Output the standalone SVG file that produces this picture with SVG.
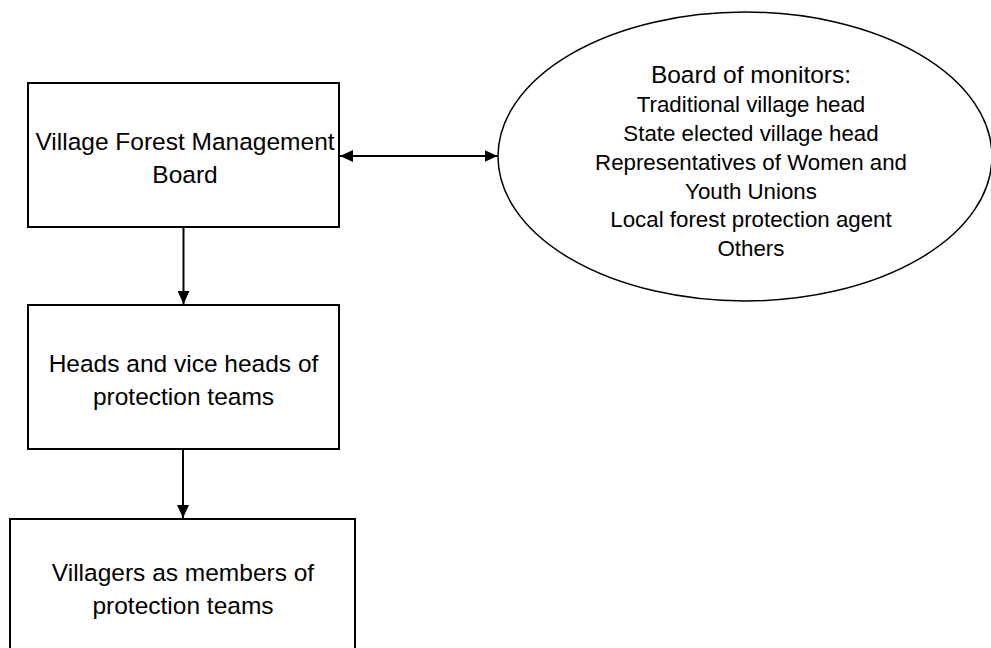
<svg xmlns="http://www.w3.org/2000/svg" width="991" height="648" viewBox="0 0 991 648">
<style>
.box{fill:#fff;stroke:#000;stroke-width:2}
.ell{fill:#fff;stroke:#000;stroke-width:1.5}
.t{font-family:"Liberation Sans",Arial,sans-serif;font-size:24.5px;fill:#000;text-anchor:middle}
.h{font-size:24.5px}
.s{font-size:22.3px}
.c{stroke:#000;stroke-width:2;fill:none}
</style>
<defs>
<marker id="ah" viewBox="0 0 13 12" refX="13" refY="6" markerWidth="13" markerHeight="12" markerUnits="userSpaceOnUse" orient="auto-start-reverse">
<path d="M0,0 L13,6 L0,12 Z" fill="#000"/>
</marker>
</defs>
<rect width="991" height="648" fill="#fff"/>
<g id="vfmb">
<rect class="box" x="28" y="83" width="311" height="144"/>
<text class="t" x="185" y="150">Village Forest Management</text>
<text class="t" x="185" y="183">Board</text>
</g>
<g id="monitors">
<ellipse class="ell" cx="745" cy="156.5" rx="247" ry="144.5"/>
<text class="t h" x="751" y="83">Board of monitors:</text>
<text class="t s" x="751" y="112">Traditional village head</text>
<text class="t s" x="751" y="141">State elected village head</text>
<text class="t s" x="751" y="169.5">Representatives of Women and</text>
<text class="t s" x="751" y="198.5">Youth Unions</text>
<text class="t s" x="751" y="227">Local forest protection agent</text>
<text class="t s" x="751" y="256">Others</text>
</g>
<g id="heads">
<rect class="box" x="28" y="305" width="311" height="144"/>
<text class="t" x="183.5" y="372">Heads and vice heads of</text>
<text class="t" x="183.5" y="405">protection teams</text>
</g>
<g id="villagers">
<rect class="box" x="10" y="519" width="345" height="150"/>
<text class="t" x="183" y="581">Villagers as members of</text>
<text class="t" x="183" y="614">protection teams</text>
</g>
<g id="connectors">
<line class="c" x1="340" y1="156" x2="497.5" y2="156" marker-start="url(#ah)" marker-end="url(#ah)"/>
<line class="c" x1="183.5" y1="228" x2="183.5" y2="304" marker-end="url(#ah)"/>
<line class="c" x1="183" y1="450" x2="183" y2="518" marker-end="url(#ah)"/>
</g>
</svg>
